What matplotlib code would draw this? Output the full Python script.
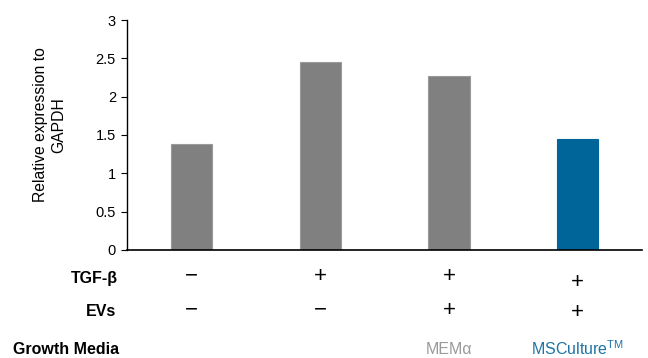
import matplotlib
matplotlib.use("Agg")
import matplotlib.pyplot as plt
import matplotlib.transforms as mt

plt.rcParams['font.family'] = ['Liberation Sans', 'DejaVu Sans']

categories = ["A", "B", "C", "D"]
values = [1.38, 2.45, 2.27, 1.45]
bar_colors = ["#808080", "#808080", "#808080", "#00669A"]
tgf = ["−", "+", "+", "+"]
evs = ["−", "−", "+", "+"]
media = ["", "", "MEMα", "MSCulture$^{\\mathregular{TM}}$"]
media_colors = ["#9a9a9a", "#9a9a9a", "#9a9a9a", "#1F74A6"]

fig = plt.figure(figsize=(6.48, 3.58), dpi=100)
ax = fig.add_axes([0.196, 0.302, 0.795, 0.642])
x = list(range(len(categories)))
ax.bar(x, values, width=0.32, color=bar_colors,
       edgecolor=["#9a9a9a"] * 3 + ["#00669A"], linewidth=0.8)
ax.set_xlim(-0.5, 3.5)
ax.set_ylim(0, 3)
ax.set_yticks([0, 0.5, 1, 1.5, 2, 2.5, 3])
ax.set_yticklabels(["0", "0.5", "1", "1.5", "2", "2.5", "3"], fontsize=10.5)
ax.set_xticks([])
for s in ["top", "right"]:
    ax.spines[s].set_visible(False)
ax.spines["bottom"].set_linewidth(1.2)
ax.spines["left"].set_linewidth(1.0)
ax.tick_params(axis="y", length=4, width=0.8, pad=4)

def fy(py):
    return 1 - py / 358.0

fig.text(50 / 648, fy(125), "Relative expression to\nGAPDH", rotation=90,
         ha="center", va="center", fontsize=11.3, linespacing=1.25)

blend = mt.blended_transform_factory(ax.transData, fig.transFigure)
tgf_y = [276, 277, 277, 282]
evs_y = [310, 310, 311, 313]
for i in x:
    ax.text(i, fy(tgf_y[i]), tgf[i], transform=blend, ha="center", va="center", fontsize=16)
    ax.text(i, fy(evs_y[i]), evs[i], transform=blend, ha="center", va="center", fontsize=16)
    if media[i]:
        ax.text(i, fy(349), media[i], transform=blend, ha="center", va="center",
                fontsize=11.5, color=media_colors[i])
fig.text(118 / 648, fy(278), "TGF-β", ha="right", va="center", fontsize=11.5, fontweight="bold")
fig.text(116 / 648, fy(312), "EVs", ha="right", va="center", fontsize=11.5, fontweight="bold")
fig.text(13 / 648, fy(350), "Growth Media", ha="left", va="center", fontsize=11.5, fontweight="bold")

fig.savefig("out.png", dpi=100)
